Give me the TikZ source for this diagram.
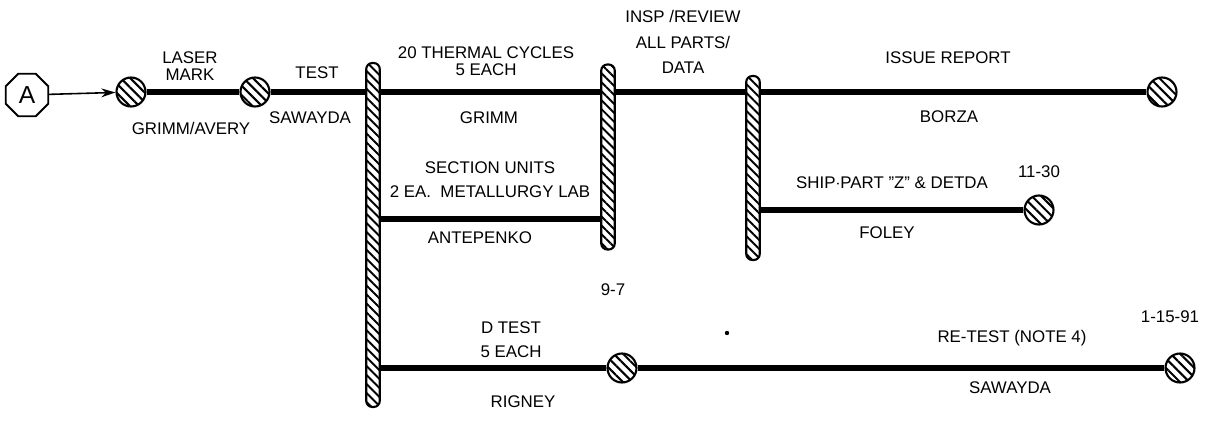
\documentclass[tikz,border=0pt]{standalone}
\usepackage{fontspec}
\setmainfont{Liberation Sans}
\usetikzlibrary{patterns.meta,shapes.geometric,arrows.meta}
\begin{document}
\begin{tikzpicture}[x=0.02cm,y=-0.02cm,
  lab/.style={font=\fontsize{9.6}{13.6}\selectfont, align=center, inner sep=0pt},
  tight/.style={font=\fontsize{9.6}{9.8}\selectfont},
  wide/.style={font=\fontsize{9.6}{14.4}\selectfont},
  hc/.style={circle, draw, line width=1.2pt, minimum size=0.58cm, inner sep=0pt,
    pattern={Lines[angle=-45,distance=3.8pt,line width=1.2pt]}},
  hbar/.style={rectangle, rounded corners=0.12cm, draw, line width=1.2pt,
    minimum width=0.27cm, inner sep=0pt,
    pattern={Lines[angle=-45,distance=3.6pt,line width=1.1pt]}},
  heavy/.style={line width=3.8pt},
]
\useasboundingbox (0,0) rectangle (1205,420);

% start node
\node[regular polygon, regular polygon sides=8, draw, line width=1.1pt,
  minimum size=0.92cm, inner sep=0pt, font=\fontsize{14}{14}\selectfont] (A) at (27,95) {A};

% event circles
\node[hc] (c1) at (131,92) {};
\node[hc] (c2) at (255,92) {};
\node[hc] (c3) at (1162,92) {};
\node[hc] (c4) at (1039,210) {};
\node[hc] (c5) at (622,368) {};
\node[hc] (c6) at (1180,368) {};

% bars
\node[hbar, minimum height=6.88cm] (b1) at (373,235) {};
\node[hbar, minimum height=3.7cm] (b2) at (608,157) {};
\node[hbar, minimum height=3.68cm] (b3) at (753,168) {};

\coordinate (ya) at (480,219);

% connectors
\draw[-{Stealth[length=8pt,width=5pt]}, line width=0.9pt] (A) -- (c1);
\draw[heavy] (c1) -- (c2);
\draw[heavy] (c2) -- (c2 -| b1.west);
\draw[heavy] (b1.east |- c2) -- (b2.west |- c2);
\draw[heavy] (b2.east |- c2) -- (b3.west |- c2);
\draw[heavy] (b3.east |- c3) -- (c3);
\draw[heavy] (b3.east |- c4) -- (c4);
\draw[heavy] (b1.east |- ya) -- (b2.west |- ya);
\draw[heavy] (b1.east |- c5) -- (c5);
\draw[heavy] (c5) -- (c6);

% labels
\node[lab, tight] (t1) at (190,66) {LASER\\MARK};
\node[lab] (t2) at (191,128) {GRIMM/AVERY};
\node[lab] (t3) at (317,73) {TEST};
\node[lab] (t4) at (310,118) {SAWAYDA};
\node[lab, tight] (t5) at (486,61) {20 THERMAL CYCLES\\5 EACH};
\node[lab] (t6) at (489,118) {GRIMM};
\node[lab] (t7) at (490,180) {SECTION UNITS\\2 EA.\ \ METALLURGY LAB};
\node[lab] (t8) at (480,238) {ANTEPENKO};
\node[lab, wide] (t9) at (683,42) {INSP /REVIEW\\ALL PARTS/\\DATA};
\node[lab] (t10) at (948,58) {ISSUE REPORT};
\node[lab] (t11) at (949,117) {BORZA};
\node[lab] (t12) at (892,183) {SHIP$\cdot$PART {\char34}Z{\char34} \& DETDA};
\node[lab] (t13) at (1039,172) {11-30};
\node[lab] (t14) at (887,233) {FOLEY};
\node[lab] (t15) at (613,290) {9-7};
\node[lab] (t16) at (511,340) {D TEST\\5 EACH};
\node[lab] (t17) at (523,402) {RIGNEY};
\node[lab] (t18) at (1170,317) {1-15-91};
\node[lab] (t19) at (1012,338) {RE-TEST (NOTE 4)};
\node[lab] (t20) at (1010,388) {SAWAYDA};
\node[circle, fill, inner sep=0pt, minimum size=2.5pt] (dot) at (727,333) {};
\end{tikzpicture}
\end{document}
